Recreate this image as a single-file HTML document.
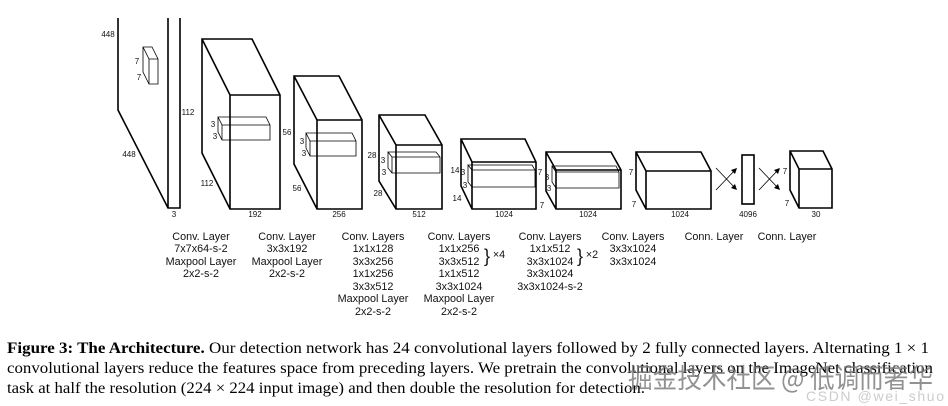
<!DOCTYPE html>
<html><head><meta charset="utf-8"><style>
html,body{margin:0;padding:0;background:#fff;}
svg{display:block;}
.l{font-family:"Liberation Sans","DejaVu Sans",sans-serif;font-size:10.8px;fill:#111;text-anchor:middle;}
.s{font-family:"Liberation Sans",sans-serif;font-size:8px;fill:#111;text-anchor:middle;}
.c{font-family:"Liberation Serif",serif;font-size:16px;fill:#000;}
</style></head><body>
<svg width="948" height="406" viewBox="0 0 948 406" xmlns="http://www.w3.org/2000/svg">
<g fill="none" stroke="#000" stroke-width="1.6" stroke-linejoin="miter">
<path d="M118,18 V110 L168,208 H180 V18 M168,18 V208"/>
<path d="M202,39 L252,39 L280,95 L280,209 L230,209 L202,153 Z M202,39 L230,95 L280,95 M230,95 V209"/>
<path d="M294,76 L339,76 L362,120 L362,209 L317,209 L294,164 Z M294,76 L317,120 L362,120 M317,120 V209"/>
<path d="M379,115 L425,115 L442,145 L442,209 L396,209 L379,181 Z M379,115 L396,145 L442,145 M396,145 V209"/>
<path d="M461,139 L525,139 L536,162 L536,209 L472,209 L461,186 Z M461,139 L472,162 L536,162 M472,162 V209"/>
<path d="M546,152 L611,152 L621,170 L621,209 L556,209 L546,191 Z M546,152 L556,170 L621,170 M556,170 V209"/>
<path d="M636,152 L701,152 L711,171 L711,209 L646,209 L636,190 Z M636,152 L646,171 L711,171 M646,171 V209"/>
<rect x="742" y="155" width="12" height="49"/>
<path d="M790,151 L823,151 L832,169 L832,208 L799,208 L790,190 Z M790,151 L799,169 L832,169 M799,169 V208"/>
</g>
<g fill="none" stroke="#000" stroke-width="0.8">
<path d="M143,47 H152 L158,59 V84 H149 V59 Z M143,47 L149,59 H158 M143,47 V72 L149,84"/>
<path d="M218,117 H266 L270,125 V140 H222 V125 Z M218,117 L222,125 H270 M218,117 V132 L222,140"/>
<path d="M306,133 H352 L356,141 V156 H310 V141 Z M306,133 L310,141 H356 M306,133 V148 L310,156"/>
<path d="M388,152 H436 L440,157 V173 H392 V157 Z M388,152 L392,157 H440 M388,152 V168 L392,173"/>
<path d="M468,165 H532 L535,170 V187 H472 V170 Z M468,165 L472,170 H535 M468,165 V182 L472,187"/>
<path d="M552,166 H616 L619,172 V188 H556 V172 Z M552,166 L556,172 H619 M552,166 V182 L556,188"/>
<path d="M716,168 L736,189 M716,190 L736,169 M759,168 L779,189 M759,190 L779,169"/>
</g>
<g fill="#000">
<path d="M737,190 L731,188 L735,184 Z M737,168 L735,174 L731,170 Z M780,190 L774,188 L778,184 Z M780,168 L778,174 L774,170 Z"/>
</g>
<g class="s">
<text x="108" y="37">448</text><text x="137" y="64">7</text><text x="139" y="80">7</text>
<text x="129" y="157">448</text><text x="174" y="217">3</text>
<text x="188" y="115">112</text><text x="207" y="186">112</text><text x="255" y="217">192</text>
<text x="213" y="127">3</text><text x="215" y="139">3</text>
<text x="287" y="135">56</text><text x="297" y="191">56</text><text x="339" y="217">256</text>
<text x="302" y="144">3</text><text x="304" y="156">3</text>
<text x="372" y="158">28</text><text x="378" y="196">28</text><text x="419" y="217">512</text>
<text x="383" y="163">3</text><text x="384" y="175">3</text>
<text x="455" y="173">14</text><text x="457" y="201">14</text><text x="504" y="217">1024</text>
<text x="463" y="175">3</text><text x="465" y="188">3</text>
<text x="540" y="175">7</text><text x="542" y="208">7</text><text x="588" y="217">1024</text>
<text x="547" y="180">3</text><text x="549" y="191">3</text>
<text x="631" y="175">7</text><text x="634" y="207">7</text><text x="680" y="217">1024</text>
<text x="748" y="217">4096</text>
<text x="785" y="174">7</text><text x="787" y="206">7</text><text x="816" y="217">30</text>
</g>
<g class="l">
<text x="201" y="240">Conv. Layer</text><text x="201" y="252">7x7x64-s-2</text><text x="201" y="265">Maxpool Layer</text><text x="201" y="277">2x2-s-2</text>
<text x="287" y="240">Conv. Layer</text><text x="287" y="252">3x3x192</text><text x="287" y="265">Maxpool Layer</text><text x="287" y="277">2x2-s-2</text>
<text x="373" y="240">Conv. Layers</text><text x="373" y="252">1x1x128</text><text x="373" y="265">3x3x256</text><text x="373" y="277">1x1x256</text><text x="373" y="290">3x3x512</text><text x="373" y="302">Maxpool Layer</text><text x="373" y="315">2x2-s-2</text>
<text x="459" y="240">Conv. Layers</text><text x="459" y="252">1x1x256</text><text x="459" y="265">3x3x512</text><text x="459" y="277">1x1x512</text><text x="459" y="290">3x3x1024</text><text x="459" y="302">Maxpool Layer</text><text x="459" y="315">2x2-s-2</text>
<text x="550" y="240">Conv. Layers</text><text x="550" y="252">1x1x512</text><text x="550" y="265">3x3x1024</text><text x="550" y="277">3x3x1024</text><text x="550" y="290">3x3x1024-s-2</text>
<text x="633" y="240">Conv. Layers</text><text x="633" y="252">3x3x1024</text><text x="633" y="265">3x3x1024</text>
<text x="714" y="240">Conn. Layer</text><text x="787" y="240">Conn. Layer</text>
<text x="487" y="262" style="font-size:18px">}</text><text x="499" y="258">×4</text>
<text x="580" y="262" style="font-size:18px">}</text><text x="592" y="258">×2</text>
</g>
<text class="c" x="7" y="353" textLength="922" lengthAdjust="spacingAndGlyphs"><tspan font-weight="bold">Figure 3: The Architecture.</tspan> Our detection network has 24 convolutional layers followed by 2 fully connected layers. Alternating 1 × 1</text>
<text class="c" x="7" y="373" textLength="926" lengthAdjust="spacingAndGlyphs">convolutional layers reduce the features space from preceding layers. We pretrain the convolutional layers on the ImageNet classification</text>
<text class="c" x="7" y="393" textLength="638" lengthAdjust="spacingAndGlyphs">task at half the resolution (224 × 224 input image) and then double the resolution for detection.</text>
<text x="628" y="388" style="font-family:'Noto Sans CJK SC',sans-serif;font-size:27px;fill:#777;fill-opacity:0.8" textLength="305" lengthAdjust="spacingAndGlyphs">掘金技术社区 @ 低调而奢华</text>
<text x="806" y="401" style="font-family:'Liberation Sans',sans-serif;font-size:14px;fill:#ccc" textLength="138">CSDN @wei_shuo</text>
</svg>
</body></html>
